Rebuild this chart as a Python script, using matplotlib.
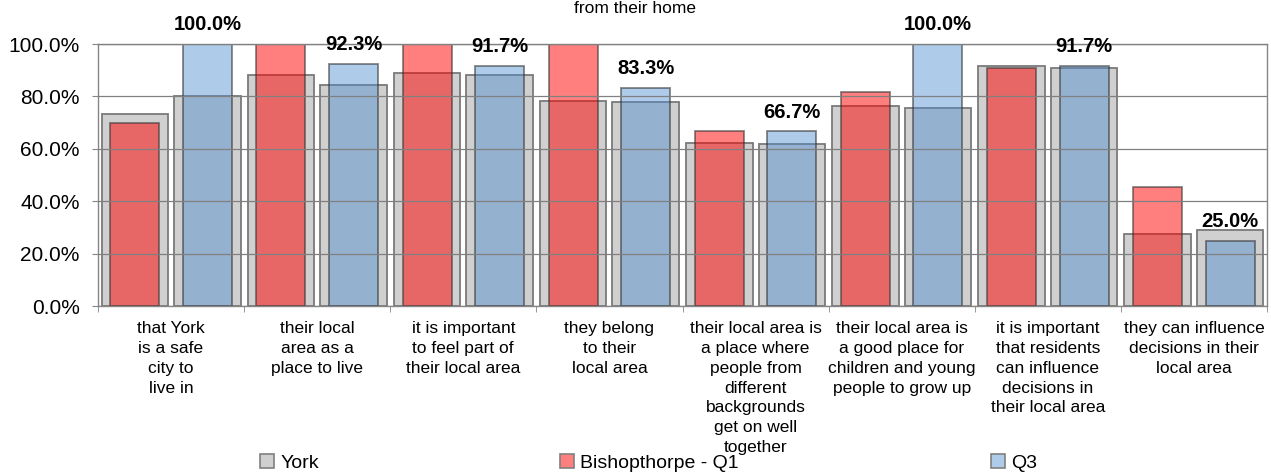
import matplotlib
matplotlib.use("Agg")
import matplotlib.pyplot as plt
from matplotlib.patches import Patch
from matplotlib.ticker import FuncFormatter
import numpy as np

plt.rcParams['font.family'] = ['Liberation Sans', 'DejaVu Sans']

# data (proportion agreeing)
categories = ["that York\nis a safe\ncity to\nlive in",
              "their local\narea as a\nplace to live",
              "it is important\nto feel part of\ntheir local area",
              "they belong\nto their\nlocal area",
              "their local area is\na place where\npeople from\ndifferent\nbackgrounds\nget on well\ntogether",
              "their local area is\na good place for\nchildren and young\npeople to grow up",
              "it is important\nthat residents\ncan influence\ndecisions in\ntheir local area",
              "they can influence\ndecisions in their\nlocal area"]
york_q1 = [0.733, 0.883, 0.888, 0.783, 0.623, 0.765, 0.917, 0.273]
bishopthorpe_q1 = [0.700, 1.000, 1.000, 1.000, 0.667, 0.818, 0.909, 0.455]
york_q3 = [0.800, 0.845, 0.880, 0.780, 0.620, 0.755, 0.907, 0.290]
q3 = [1.000, 0.923, 0.917, 0.833, 0.667, 1.000, 0.917, 0.250]

fig = plt.figure(figsize=(12.71, 4.72), dpi=100)
ax = fig.add_axes([98/1271, 1-306/472, (1267-98)/1271, (306-44)/472])

x = np.arange(len(categories))
off = 0.248
grey_w = 0.455
col_w = 0.335

ax.bar(x - off, york_q1, grey_w, color='#d0d0d0', edgecolor='#7a7a7a', linewidth=1.3, zorder=1)
ax.bar(x + off, york_q3, grey_w, color='#d0d0d0', edgecolor='#7a7a7a', linewidth=1.3, zorder=1)
ax.bar(x - off, bishopthorpe_q1, col_w, color=(1, 0, 0, 0.5), edgecolor=(0.2, 0.2, 0.2, 0.6),
       linewidth=1.3, zorder=2)
bars = ax.bar(x + off, q3, col_w, color=(0.31, 0.55, 0.82, 0.45), edgecolor=(0.2, 0.2, 0.2, 0.6),
              linewidth=1.3, zorder=2)

for b, v in zip(bars, q3):
    ax.annotate(f"{v:.1%}", (b.get_x() + b.get_width()/2, v), xytext=(0, 7),
                textcoords='offset points', ha='center', va='bottom',
                fontsize=14.5, fontweight='bold', annotation_clip=False)

ax.set_xlim(-0.5, len(categories) - 0.5)
ax.set_ylim(0, 1)
ax.set_yticks(np.arange(0, 1.01, 0.2))
ax.yaxis.set_major_formatter(FuncFormatter(lambda v, p: f"{v*100:.1f}%"))
ax.tick_params(axis='y', labelsize=15, length=4.3, pad=9, color='#868686')

ax.set_xticks(x)
ax.set_xticklabels(categories, fontsize=12.5, linespacing=1.4)
ax.tick_params(axis='x', which='major', length=0, pad=11)
ax.set_xticks(np.arange(-0.5, len(categories)), minor=True)
ax.tick_params(axis='x', which='minor', length=4, color='#868686')

ax.set_axisbelow(False)
ax.yaxis.grid(True, color='#808080', linewidth=0.9)
for s in ax.spines.values():
    s.set_color('#868686')
    s.set_linewidth(1.0)

fig.text(0.5, 1 - 1/472, "from their home", ha='center', va='top', fontsize=12.5)

legend_items = [("York", '#d0d0d0', 260), ("Bishopthorpe - Q1", '#ff7f7f', 560), ("Q3", '#afcbea', 991)]
for name, c, px in legend_items:
    fig.legend(handles=[Patch(facecolor=c, edgecolor='#808080', linewidth=1.2, label=name)],
               loc='center left', bbox_to_anchor=(px/1271, 1 - 463/472), frameon=False,
               fontsize=14, handlelength=0.7, handleheight=0.7, handletextpad=0.35,
               borderpad=0, borderaxespad=0)

fig.savefig("out.png", dpi=100)
